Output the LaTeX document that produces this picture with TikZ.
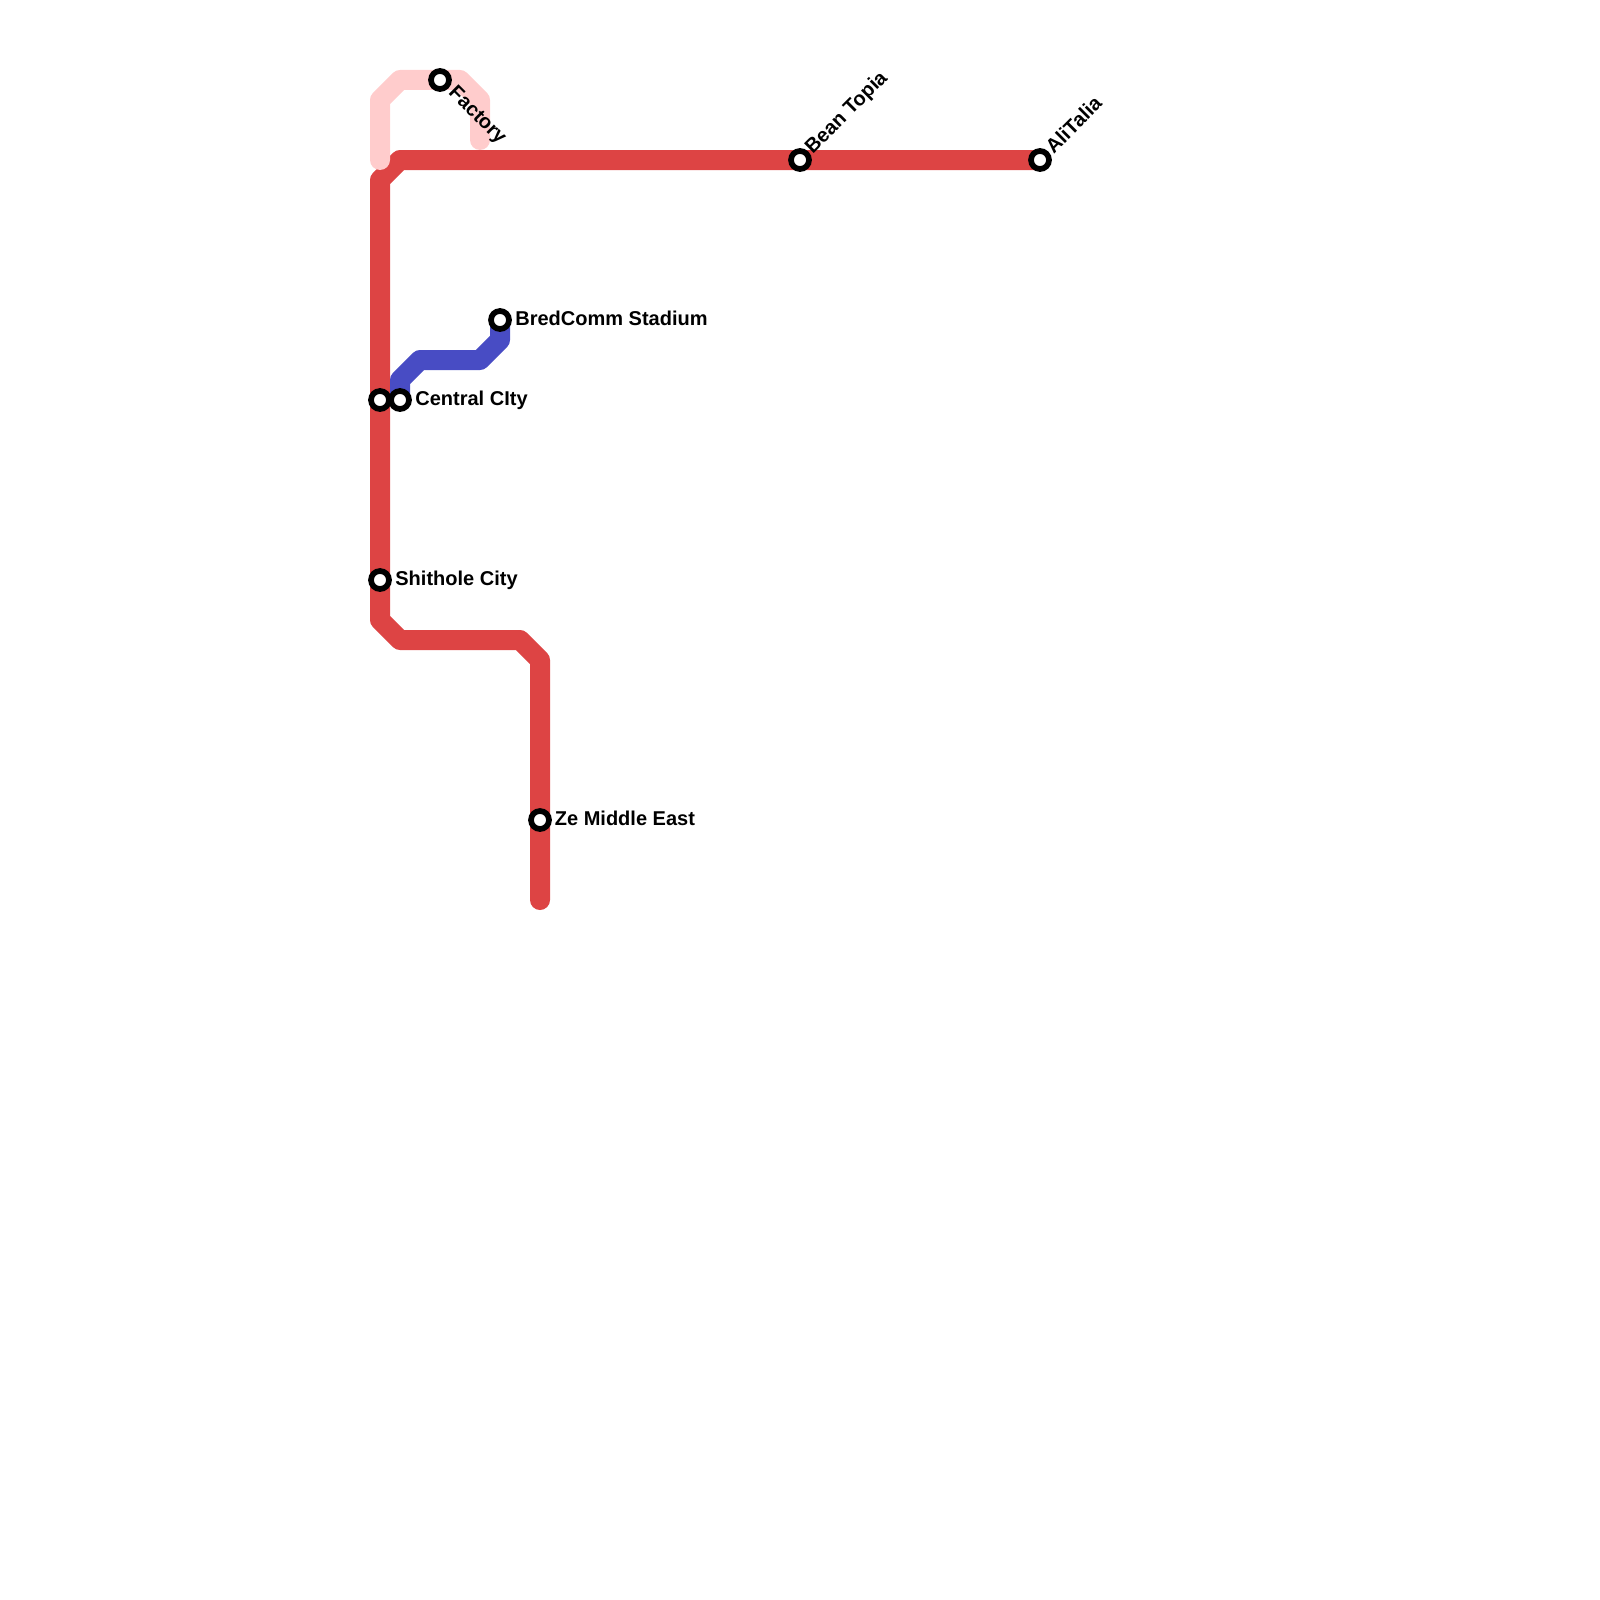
\documentclass[tikz,border=0pt]{standalone}
\usepackage{fontspec}
\usetikzlibrary{backgrounds}
\setmainfont{Liberation Sans}
\tikzset{
  x=0.5pt,y=-0.5pt,
  metro/.style={line width=10pt,line cap=round,line join=round},
  redline/.style={metro,draw={rgb,255:red,221;green,68;blue,68}},
  pinkline/.style={metro,draw={rgb,255:red,255;green,204;blue,204}},
  blueline/.style={metro,draw={rgb,255:red,72;green,76;blue,196}},
  station/.style={circle,draw=black,fill=white,line width=2.85pt,minimum size=9pt,inner sep=0pt},
  lab/.style={font=\bfseries\fontsize{10}{12}\selectfont,text=black,inner sep=0pt},
}
\begin{document}
\begin{tikzpicture}
\useasboundingbox (0,0) rectangle (1600,1600);
\node[station] (sa) at (380,400) {};
\node[station] (sb) at (400,400) {};
\node[station] (sc) at (380,580) {};
\node[station] (sd) at (540,820) {};
\node[station] (se) at (500,320) {};
\node[station] (sf) at (440,80) {};
\node[station] (sg) at (800,160) {};
\node[station] (sh) at (1040,160) {};
\coordinate (r0) at (540,900);
\coordinate (p0) at (380,160);
\coordinate (p1) at (480,140);
\begin{scope}[on background layer]
\draw[redline] (r0) -- (sd.center) -- (540,660) -- (520,640) -- (400,640) -- (380,620) -- (sc.center) -- (sa.center) -- (380,180) -- (400,160) -- (sg.center) -- (sh.center);
\draw[pinkline] (p0) -- (380,100) -- (400,80) -- (sf.center) -- (460,80) -- (480,100) -- (p1);
\draw[blueline] (sb.center) -- (400,380) -- (420,360) -- (480,360) -- (500,340) -- (se.center);
\end{scope}
\node[lab,anchor=base west] (lb) at (415,405.7) {Central CIty};
\node[lab,anchor=base west] (lc) at (395,585.7) {Shithole City};
\node[lab,anchor=base west] (ld) at (554.5,825.7) {Ze Middle East};
\node[lab,anchor=base west] (le) at (515,325.7) {BredComm Stadium};
\node[lab,anchor=west,rotate=-45] (lf) at (451,90) {Factory};
\node[lab,anchor=west,rotate=45] (lg) at (809,151) {Bean Topia};
\node[lab,anchor=west,rotate=45] (lh) at (1048.5,149.5) {AliTalia};
\end{tikzpicture}
\end{document}
